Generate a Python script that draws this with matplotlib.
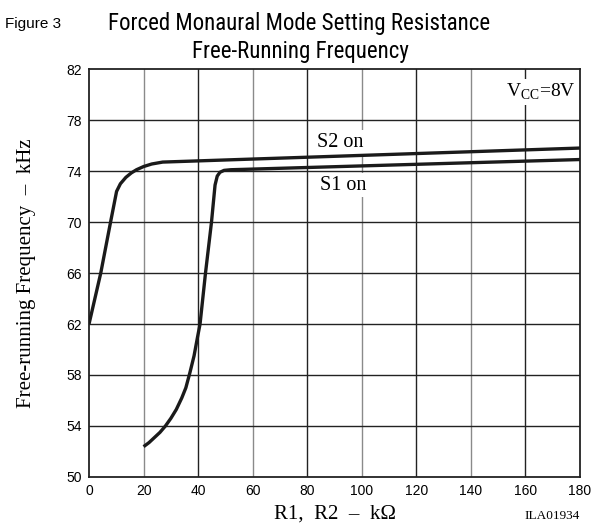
import matplotlib
matplotlib.use("Agg")
from matplotlib import pyplot as plt, font_manager

plt.rcParams['mathtext.fontset'] = 'custom'
plt.rcParams['mathtext.rm'] = 'Liberation Serif'

# curves (R in kOhm, f in kHz)
s2_r = [0, 4.3, 7.9, 10.1, 11.5, 13.5, 15.5, 17.4, 20, 23, 27, 180]
s2_f = [62, 66, 70, 72.4, 73.0, 73.5, 73.85, 74.1, 74.35, 74.55, 74.7, 75.8]

s1_r = [20, 22, 24, 26, 28, 30, 32, 34, 35.5, 37, 38.5, 39.8, 40.7, 42.7, 44.9, 46.2, 47, 48, 49.5, 52, 180]
s1_f = [52.38, 52.7, 53.1, 53.5, 54.0, 54.6, 55.3, 56.2, 57.0, 58.2, 59.5, 61.0, 62.0, 66.0, 70.0, 72.9,
        73.6, 73.9, 74.05, 74.1, 74.9]

x_ticks = [0, 20, 40, 60, 80, 100, 120, 140, 160, 180]
y_ticks = [50, 54, 58, 62, 66, 70, 74, 78, 82]

sans = ['Liberation Sans', 'DejaVu Sans']
serif = ['Liberation Serif', 'DejaVu Serif']

# the title is set in a narrow helvetica; use one if it is installed
installed = {f.name for f in font_manager.fontManager.ttflist}
title_fam, title_size = sans, 15.5
for name in ['Liberation Sans Narrow', 'Arial Narrow', 'Roboto Condensed']:
    if name in installed:
        title_fam, title_size = [name] + sans, 16.5
        break

fig = plt.figure(figsize=(6.04, 5.28), dpi=100)
ax = fig.add_axes([0.1474, 0.0966, 0.8129, 0.7727])

ax.set_xlim(0, 180)
ax.set_ylim(50, 82)
ax.set_xticks(x_ticks)
ax.set_yticks(y_ticks)
ax.tick_params(length=0, pad=5, labelsize=10)
for lab in ax.get_xticklabels() + ax.get_yticklabels():
    lab.set_family(sans)

# grid: vertical lines alternate grey / black like the scan
for i, x in enumerate(x_ticks[1:-1]):
    ax.axvline(x, color='#8a8a8a' if i % 2 == 0 else '#222222', lw=1.0, zorder=1)
for y in y_ticks[1:-1]:
    ax.axhline(y, color='#222222', lw=1.0, zorder=1)

for sp in ax.spines.values():
    sp.set_linewidth(1.3)
    sp.set_color('#222222')

ax.plot(s2_r, s2_f, color='#1a1a1a', lw=2.4, solid_capstyle='butt', zorder=3)
ax.plot(s1_r, s1_f, color='#1a1a1a', lw=2.4, solid_capstyle='butt', zorder=3)

box = dict(facecolor='white', edgecolor='none', pad=2)
ax.text(92, 76.25, 'S2 on', family=serif, fontsize=14.5, ha='center', va='center',
        bbox=box, zorder=2)
ax.text(93, 72.9, 'S1 on', family=serif, fontsize=14.5, ha='center', va='center',
        bbox=box, zorder=2)
ax.text(178.5, 80.2, r'V$_{\rm CC}$=8V', family=serif, fontsize=14, ha='right', va='center',
        bbox=box, zorder=2)

ax.set_xlabel('R1,  R2  –  kΩ', family=serif, fontsize=15, labelpad=5)
ax.set_ylabel('Free-running Frequency  –  kHz', family=serif, fontsize=15, labelpad=22)

fig.text(0.008, 0.955, 'Figure 3', family=sans, fontsize=11, ha='left', va='center')
fig.text(0.495, 0.955, 'Forced Monaural Mode Setting Resistance', family=title_fam,
         fontsize=title_size, ha='center', va='center')
fig.text(0.497, 0.902, 'Free-Running Frequency', family=title_fam, fontsize=title_size,
         ha='center', va='center')
fig.text(0.96, 0.022, 'ILA01934', family=serif, fontsize=9.5, ha='right', va='center')

fig.savefig('out.png', dpi=100)
